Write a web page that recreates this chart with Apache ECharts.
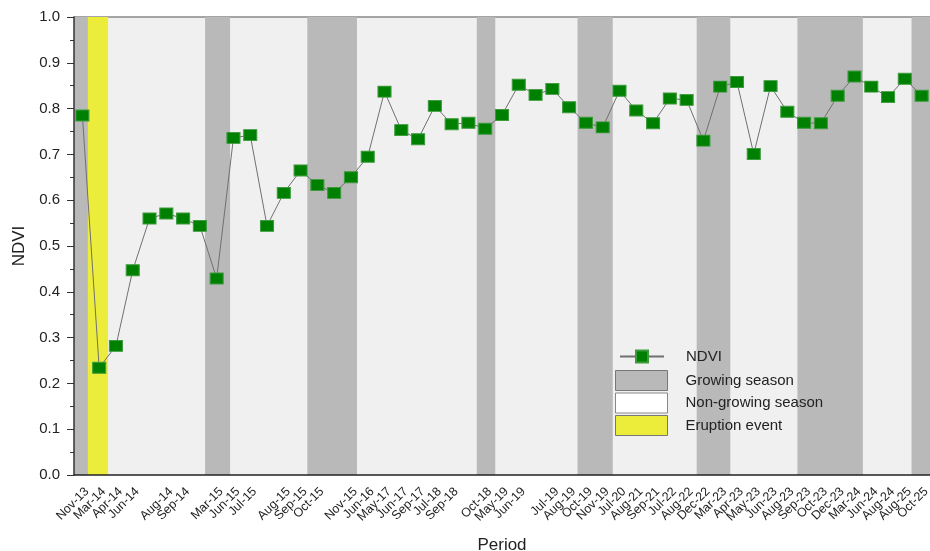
<!DOCTYPE html>
<html><head><meta charset="utf-8">
<script src="https://cdn.jsdelivr.net/npm/echarts@6/dist/echarts.min.js"></script>
<style>html,body{margin:0;padding:0;background:#fff}#c{width:930px;height:551px}</style>
</head><body><div id="c"></div>
<script>
const periods = ['Nov-13','Mar-14','Apr-14','Jun-14','','Aug-14','Sep-14','','Mar-15','Jun-15','Jul-15','','Aug-15','Sep-15','Oct-15','','Nov-15','Jun-16','May-17','Jun-17','Sep-17','Jul-18','Sep-18','','Oct-18','May-19','Jun-19','','Jul-19','Aug-19','Oct-19','Nov-19','Jul-20','Aug-21','Sep-21','Jul-22','Aug-22','Dec-22','Mar-23','Apr-23','May-23','Jun-23','Aug-23','Sep-23','Oct-23','Dec-23','Mar-24','Jun-24','Aug-24','Aug-25','Oct-25'];
const ndvi = [0.785,0.234,0.282,0.447,0.560,0.571,0.560,0.544,0.429,0.736,0.742,0.544,0.616,0.665,0.633,0.616,0.650,0.695,0.837,0.753,0.733,0.806,0.766,0.769,0.756,0.786,0.852,0.830,0.843,0.803,0.769,0.759,0.839,0.796,0.768,0.822,0.819,0.730,0.848,0.858,0.701,0.849,0.793,0.769,0.768,0.828,0.870,0.848,0.825,0.865,0.828];
// season spans in period-index units
const growingSeason = [[-0.5,0.33],[7.31,8.80],[13.4,16.36],[23.5,24.6],[29.5,31.6],[36.6,38.6],[42.6,46.5],[49.4,50.5]];
const eruptionEvent = [[0.33,1.53]];
const nonGrowingSeason = [[-0.5,50.5]];

const FONT = 'Liberation Sans, Arial, sans-serif';
function band(color){
  return function(params, api){
    const p0 = api.coord([api.value(0), 1]);
    const p1 = api.coord([api.value(1), 0]);
    return {type:'rect', shape:{x:p0[0], y:p0[1], width:p1[0]-p0[0], height:p1[1]-p0[1]}, style:{fill:color}};
  };
}
const chart = echarts.init(document.getElementById('c'), null, {renderer:'canvas'});
chart.setOption({
  animation:false,
  backgroundColor:'#fff',
  textStyle:{fontFamily:FONT},
  grid:{left:74, right:0, top:17, bottom:76, containLabel:false, outerBoundsMode:'none'},
  legend:[
    {data:[{name:'NDVI'}], orient:'vertical', left:614, top:344, itemWidth:44, itemHeight:15,
     textStyle:{fontSize:15, color:'#222', fontFamily:FONT, padding:[0,0,0,17]}, selectedMode:false},
    {data:[
      {name:'Growing season', icon:'rect', itemStyle:{color:'#b9b9b9', borderColor:'#777', borderWidth:1}},
      {name:'Non-growing season', icon:'rect', itemStyle:{color:'#ffffff', borderColor:'#888', borderWidth:1}},
      {name:'Eruption event', icon:'rect', itemStyle:{color:'#ecec3a', borderColor:'#777', borderWidth:1}}],
     orient:'vertical', left:610, top:365, itemWidth:52, itemHeight:20, itemGap:1.5,
     textStyle:{fontSize:15, color:'#222', fontFamily:FONT, padding:[0,0,0,13]}, selectedMode:false}
  ],
  xAxis:[
    {type:'category', data:periods, boundaryGap:true,
     axisLine:{onZero:false, lineStyle:{color:'#222', width:1.5}},
     axisTick:{alignWithLabel:true, length:6, lineStyle:{color:'#222'}, interval:0},
     axisLabel:{interval:0, rotate:45, fontSize:12.5, color:'#222', margin:10, verticalAlign:'top', fontFamily:FONT},
     name:'Period', nameLocation:'middle', nameGap:62, nameTextStyle:{fontSize:17, color:'#222', fontFamily:FONT},
     splitLine:{show:false}, z:10},
    {type:'value', min:-0.5, max:50.5, position:'top',
     axisLine:{show:true, onZero:false, lineStyle:{color:'#888', width:1.5}},
     axisTick:{show:false}, axisLabel:{show:false}, splitLine:{show:false}}
  ],
  yAxis:{type:'value', min:0, max:1, interval:0.1,
    axisLine:{show:true, onZero:false, lineStyle:{color:'#333', width:1.5}},
    axisTick:{show:true, length:7, lineStyle:{color:'#333'}},
    minorTick:{show:true, splitNumber:2, length:4, lineStyle:{color:'#333'}},
    axisLabel:{fontSize:15, color:'#222', margin:14, fontFamily:FONT, formatter:v=>v.toFixed(1)},
    splitLine:{show:false},
    name:'NDVI', nameLocation:'middle', nameGap:45, nameTextStyle:{fontSize:17, color:'#222', fontFamily:FONT}, z:10},
  series:[
    {name:'Non-growing season', type:'custom', xAxisIndex:1, yAxisIndex:0, data:nonGrowingSeason, renderItem:band('#f0f0f0'), itemStyle:{color:'#ffffff'}, encode:{x:[0,1]}, clip:true, z:0, silent:true},
    {name:'Growing season', type:'custom', xAxisIndex:1, yAxisIndex:0, data:growingSeason, renderItem:band('#b9b9b9'), itemStyle:{color:'#b9b9b9'}, encode:{x:[0,1]}, clip:true, z:1, silent:true},
    {name:'Eruption event', type:'custom', xAxisIndex:1, yAxisIndex:0, data:eruptionEvent, renderItem:band('#ecec3a'), itemStyle:{color:'#ecec3a'}, encode:{x:[0,1]}, clip:true, z:1, silent:true},
    {name:'NDVI', type:'line', xAxisIndex:0, yAxisIndex:0, data:ndvi, symbol:'rect', symbolSize:[13,11],
     lineStyle:{color:'#707070', width:1}, itemStyle:{color:'#008000', borderColor:'#3d9a3d', borderWidth:1}, z:5}
  ]
});
</script>
</body></html>
